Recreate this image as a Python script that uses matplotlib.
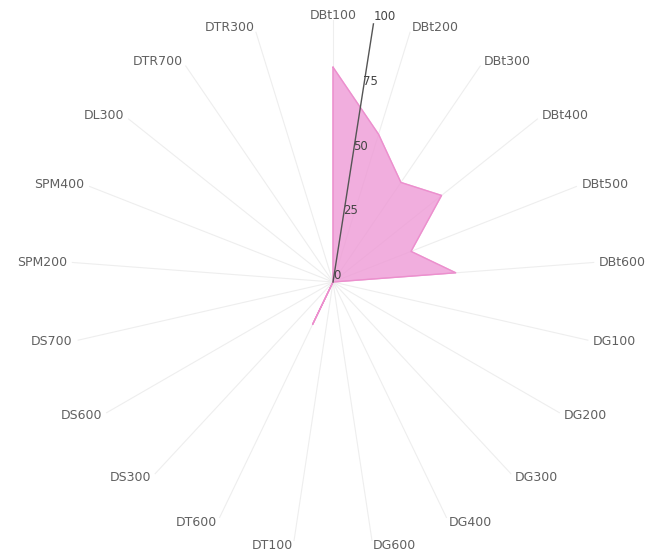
import numpy as np
import matplotlib.pyplot as plt

categories = ['DBt100', 'DBt200', 'DBt300', 'DBt400', 'DBt500', 'DBt600',
              'DG100', 'DG200', 'DG300', 'DG400', 'DG600', 'DT100', 'DT600',
              'DS300', 'DS600', 'DS700', 'SPM200', 'SPM400', 'DL300',
              'DTR700', 'DTR300']
values = [82, 59, 46, 53, 32, 47,
          0, 0, 0, 0, 0, 0, 18,
          0, 0, 0, 0, 0, 0,
          0, 0]
r_ticks = [0, 25, 50, 75, 100]

n = len(categories)
theta = np.linspace(0, 2 * np.pi, n, endpoint=False)
theta_c = np.append(theta, theta[0])
vals_c = np.append(values, values[0])

fig = plt.figure(figsize=(6.45, 5.56), dpi=100)
ax = fig.add_axes([0.1101, 0.0216, 0.8124, 0.9424], projection='polar')
ax.set_theta_offset(np.pi / 2)
ax.set_theta_direction(-1)
ax.set_ylim(0, 100)

# data polygon
ax.fill(theta_c, vals_c, color='#ee9ad6', alpha=0.8, zorder=2)
ax.plot(theta_c, vals_c, color='#ec8fcd', lw=0.9, zorder=3)

# tilted radial axis
axis_ang = np.radians(8.9)
ax.plot([axis_ang, axis_ang], [0, 100], color='#555555', lw=1, zorder=4)
ax.set_rlabel_position(8.9)
ax.set_yticks(r_ticks)
ax.set_yticklabels([str(t) for t in r_ticks], fontsize=8.5, color='#444444')
ax.yaxis.set_zorder(5)

ax.set_xticks(theta)
ax.set_xticklabels(categories, fontsize=9, color='#606060')
ax.tick_params(axis='x', pad=-7)
# labels on the right start at the spoke, labels on the left end at it
for ang, lab in zip(theta, ax.get_xticklabels()):
    if np.isclose(ang, 0):
        lab.set_ha('center')
    elif ang < np.pi:
        lab.set_ha('left')
    else:
        lab.set_ha('right')

ax.xaxis.grid(True, color='#eeeeee', lw=0.8)
ax.yaxis.grid(False)
ax.spines['polar'].set_visible(False)
ax.set_facecolor('white')

fig.savefig('out.png', dpi=100)
